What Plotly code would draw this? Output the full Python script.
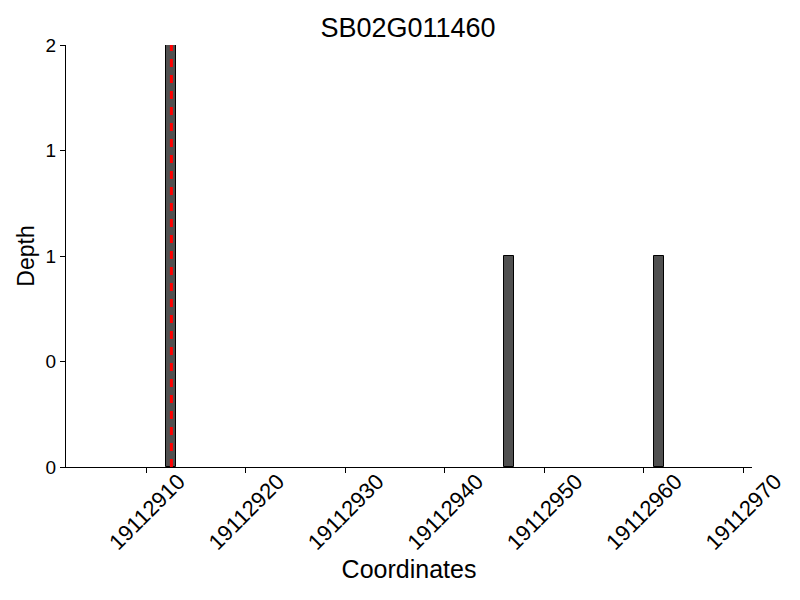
import plotly.graph_objects as go

title = "SB02G011460"
positions = [19112912.5, 19112946.5, 19112961.5]
depths = [2, 1, 1]
marker_pos = 19112912.5
x_ticks = [19112910, 19112920, 19112930, 19112940, 19112950, 19112960, 19112970]
y_ticks = [0, 0.5, 1, 1.5, 2]
y_ticktext = ["0", "0", "1", "1", "2"]

FONT = "Liberation Sans, Arial, sans-serif"

fig = go.Figure()
fig.add_trace(go.Bar(
    x=positions, y=depths, width=1,
    marker=dict(color="#505050", line=dict(color="black", width=1)),
    showlegend=False,
))
fig.add_shape(type="line", xref="x", yref="y", x0=marker_pos, x1=marker_pos,
              y0=0, y1=max(depths), line=dict(color="#ff0000", width=3, dash="8px,8px"))

fig.update_layout(
    width=800, height=600,
    paper_bgcolor="white", plot_bgcolor="white",
    margin=dict(l=58, r=56, t=37, b=141),
    font=dict(family=FONT, color="black", size=18),
    title=dict(text=title, x=0.5, xanchor="center", y=0.968, yanchor="middle",
               font=dict(size=27, family=FONT)),
    bargap=0,
)
fig.update_xaxes(
    range=[19112901.9, 19112970.9],
    tickvals=x_ticks, ticktext=[str(t) for t in x_ticks],
    tickangle=-45, ticks="outside", ticklen=5, tickcolor="black",
    ticklabelshift=32, ticklabelstandoff=-13, automargin=False,
    showline=True, linecolor="black", linewidth=1,
    showgrid=False, zeroline=False,
    tickfont=dict(size=22),
    title=dict(text="Coordinates", font=dict(size=25), standoff=4),
)
fig.update_yaxes(
    range=[0, 2],
    tickvals=y_ticks, ticktext=y_ticktext,
    ticks="outside", ticklen=5, tickcolor="black",
    showline=True, linecolor="black", linewidth=1,
    showgrid=False, zeroline=False, automargin=False,
    tickfont=dict(size=19),
    title=dict(text="Depth", font=dict(size=23), standoff=4),
)

fig.write_html("out.html")
